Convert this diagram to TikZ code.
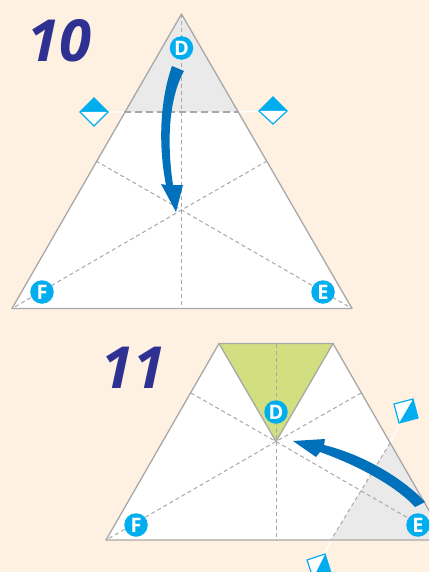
\documentclass[tikz,border=0pt]{standalone}
\usepackage{fontspec}
\setsansfont{Open Sans}
\definecolor{paper}{HTML}{FEF1E2}
\definecolor{crease}{HTML}{A8A8A8}
\definecolor{flap}{HTML}{EAEAEA}
\definecolor{leaf}{HTML}{D2DF80}
\definecolor{cyanmark}{HTML}{00AEEF}
\definecolor{arrowblue}{HTML}{0071BA}
\definecolor{stepblue}{HTML}{2E3192}
\begin{document}
\begin{tikzpicture}[x=1pt,y=-1pt]
  \tikzstyle{every node}=[inner sep=0pt]
  \tikzstyle{outline}=[draw=crease,line width=1.3pt,line join=round]
  \tikzstyle{foldline}=[crease,line width=1pt,dash pattern=on 4pt off 3pt]
  \tikzstyle{foldheavy}=[crease,line width=1.3pt,dash pattern=on 7pt off 4pt]
  \tikzstyle{cornermark}=[circle,fill=cyanmark,text=white,minimum size=23.5pt,
  font=\sffamily\bfseries\fontsize{20}{20}\selectfont]
  \tikzstyle{stepno}=[text=stepblue,
  font=\sffamily\bfseries\itshape\fontsize{58}{58}\selectfont]
  \tikzstyle{foldarrow}=[fill=arrowblue]

  \useasboundingbox (0,0) rectangle (429,572);
  \clip (0,0) rectangle (429,572);
  \fill[paper] (0,0) rectangle (429,572);

  \coordinate (top10) at (181.5,14);
  \coordinate (left10) at (12,308.5);
  \coordinate (right10) at (352,308.5);
  \coordinate (base10) at (181.5,308.5);
  \coordinate (mid10) at (181.5,210);
  \coordinate (sideL10) at (96,161);
  \coordinate (sideR10) at (267,161);
  \coordinate (foldL10) at (124,112);
  \coordinate (foldR10) at (239,112);
  \coordinate (tipL10) at (108,112);
  \coordinate (tipR10) at (259,111);

  \fill[white] (top10) -- (left10) -- (right10) -- cycle;
  \fill[flap] (top10) -- (foldL10) -- (foldR10) -- cycle;
  \draw[white,line width=1.3pt] (tipL10) -- (foldL10) (foldR10) -- (tipR10);
  \draw[foldheavy] (foldL10) -- (foldR10);
  \draw[foldline] (top10) -- (base10);
  \draw[foldline] (sideL10) -- (mid10) -- (right10);
  \draw[foldline] (sideR10) -- (mid10) -- (left10);
  \draw[outline] (top10) -- (left10) -- (right10) -- cycle;

  \coordinate (tl11) at (219,343.5);
  \coordinate (tr11) at (333,343.5);
  \coordinate (left11) at (106,540);
  \coordinate (right11) at (446,540);
  \coordinate (base11) at (276,540);
  \coordinate (topc11) at (276,343.5);
  \coordinate (mid11) at (276,441.5);
  \coordinate (sideL11) at (191,393);
  \coordinate (sideR11) at (361,393);
  \coordinate (foldT11) at (390,443);
  \coordinate (foldB11) at (331,540);
  \coordinate (tipT11) at (399,425);
  \coordinate (tipB11) at (325,553);

  \fill[white] (tl11) -- (tr11) -- (right11) -- (left11) -- cycle;
  \fill[flap] (foldT11) -- (right11) -- (foldB11) -- cycle;
  \fill[leaf] (tl11) -- (tr11) -- (mid11) -- cycle;
  \draw[white,line width=1.3pt] (tipT11) -- (foldT11) (foldB11) -- (tipB11);
  \draw[foldline] (foldT11) -- (foldB11);
  \draw[foldline] (topc11) -- (base11);
  \draw[foldline] (sideL11) -- (mid11) -- (right11);
  \draw[foldline] (sideR11) -- (mid11) -- (left11);
  \draw[outline] (tl11) -- (mid11) -- (tr11);
  \draw[outline] (tr11) -- (tl11) -- (left11) -- (right11) -- cycle;

  \foreach \ax/\ay/\bx/\by/\cx/\cy/\dx/\dy in {94/98/108/112/94/126/80/112,273/97/287/111/273/124/259/111} {
    \fill[cyanmark] (\ax,\ay) -- (\bx,\by) -- (\dx,\dy) -- cycle;
    \fill[white] (\bx,\by) -- (\cx,\cy) -- (\dx,\dy) -- cycle;
    \draw[cyanmark,line width=1.2pt] (\ax,\ay) -- (\bx,\by) -- (\cx,\cy) -- (\dx,\dy) -- cycle;
  }
  \foreach \ax/\ay/\bx/\by/\cx/\cy/\dx/\dy in {413/399/418/418/399/423/394/404,325/554/331/573/313/578/307/560} {
    \fill[cyanmark] (\ax,\ay) -- (\bx,\by) -- (\cx,\cy) -- cycle;
    \fill[white] (\ax,\ay) -- (\cx,\cy) -- (\dx,\dy) -- cycle;
    \draw[cyanmark,line width=1.2pt] (\ax,\ay) -- (\bx,\by) -- (\cx,\cy) -- (\dx,\dy) -- cycle;
  }

  \fill[foldarrow] (172,66) .. controls (160,100) and (158,145) .. (166,185)
  -- (161,184) -- (176,212) -- (183,185) -- (173,185)
  .. controls (167,145) and (168,100) .. (184,71) -- cycle;
  \fill[foldarrow] (415,507) .. controls (400,490) and (365,468) .. (320,452)
  -- (316,457) -- (293,441) -- (325,439) -- (324,445)
  .. controls (365,455) and (405,480) .. (425,502) -- cycle;

  \node[cornermark] (d10) at (181.5,48) {D};
  \node[cornermark] (f10) at (42,292) {F};
  \node[cornermark] (e10) at (323,292) {E};
  \node[cornermark] (d11) at (276,412) {D};
  \node[cornermark] (f11) at (136,525) {F};
  \node[cornermark] (e11) at (418,525) {E};
  \node[stepno] (no10) at (59,41) {10};
  \node[stepno] (no11) at (133,368) {11};
\end{tikzpicture}
\end{document}
